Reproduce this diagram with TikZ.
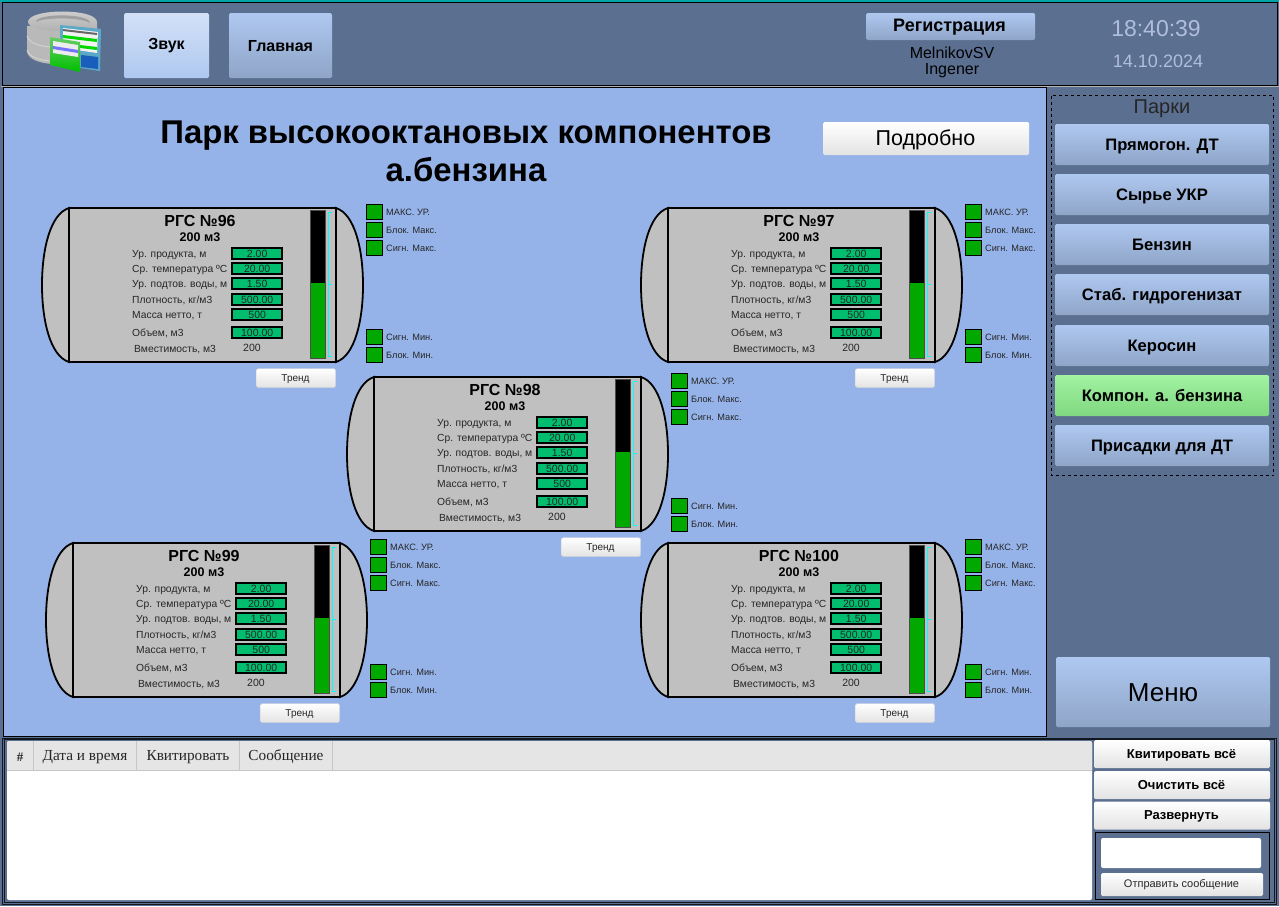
\documentclass[tikz,border=0pt]{standalone}
\usepackage{fontspec}
\setmainfont{Liberation Sans}
\newfontfamily\tablefont{Liberation Serif}
\newcommand{\px}[1]{\fontsize{#1}{#1}\selectfont}

\definecolor{panelblue}{HTML}{5B6F91}
\definecolor{mainblue}{HTML}{95B3E8}
\definecolor{tankgray}{HTML}{C0C0C0}
\definecolor{valgreen}{HTML}{00BE6E}
\definecolor{lampgreen}{HTML}{00A800}
\definecolor{clocktext}{HTML}{AFBEDC}
\definecolor{btnblue}{HTML}{AFC8F0}
\definecolor{btnbottom}{HTML}{8FA5C8}
\definecolor{levelcyan}{HTML}{00FFFF}

\tikzset{
    bluebtn/.style={draw=none, rounded corners=1.5pt, top color=btnblue, bottom color=btnbottom, inner sep=0pt, text=black},
    parkbtn/.style={bluebtn, minimum width=214pt, minimum height=41pt},
    parktext/.style={inner sep=0pt, text height=12pt, text depth=3pt, font=\px{16.6}\bfseries},
    whitebtn/.style={draw=none, rounded corners=1.5pt, top color=white, bottom color=gray!22, inner sep=0pt, text=black},
    trendbtn/.style={whitebtn, draw=gray!35, minimum width=79pt, minimum height=19pt},
    msgbtn/.style={whitebtn, minimum width=176pt, minimum height=28pt},
    msgtext/.style={inner sep=0pt, font=\px{13}\bfseries},
    valbox/.style={draw=black, line width=2pt, fill=valgreen, inner sep=0pt, minimum width=49.5pt, minimum height=11pt, text height=9pt, text depth=0pt, font=\px{10.5}, text=black!85},
    lamp/.style={draw=black, line width=0.6pt, fill=lampgreen, inner sep=0pt, minimum width=16pt, minimum height=15pt},
    lamptext/.style={anchor=west, inner sep=0pt, font=\px{9.2}, text=black!85},
    rowtext/.style={anchor=west, inner sep=0pt, yshift=-1pt, text height=8pt, text depth=2pt, font=\px{10.3}, text=black!85},
    colhead/.style={inner sep=0pt, yshift=-1pt, font=\tablefont\px{15.3}, text=black!85},
}

\newcommand{\tank}[4]{
    \begin{scope}[shift={(#2,#3)}]
        \draw[line width=1.8pt, fill=tankgray] (69,208) .. controls (50,214) and (42,250) .. (42,285) .. controls (42,320) and (50,356) .. (69,362) -- cycle;
        \draw[line width=1.8pt, fill=tankgray] (336,208) .. controls (355,214) and (363,250) .. (363,285) .. controls (363,320) and (355,356) .. (336,362) -- cycle;
        \draw[line width=1.8pt, fill=tankgray] (69,208) rectangle (336,362);
        \node[inner sep=0pt, font=\px{16}\bfseries] (#1-title) at (200,221) {РГС №#4};
        \node[inner sep=0pt, font=\px{12.5}\bfseries] (#1-vol) at (200,237) {200 м3};
        \foreach \yy/\lab/\val in {253/{Ур. продукта, м}/2.00, 268/{Ср. температура ºС}/20.00, 283/{Ур. подтов. воды, м}/1.50, 299/{Плотность, кг/м3}/500.00, 314/{Масса нетто, т}/500, 332/{Объем, м3}/100.00} {
            \node[rowtext] (#1-lab\yy) at (132,\yy) {\lab};
            \node[valbox] (#1-val\yy) at (257.2,\yy) {\val};
        }
        \node[rowtext] (#1-caplab) at (134,348) {Вместимость, м3};
        \node[inner sep=0pt, font=\px{10.5}, text=black!85] (#1-cap) at (252,348) {200};
        % level bar
        \fill[lampgreen] (310,283) rectangle (325,358);
        \fill[black] (310,210) rectangle (325,283);
        \draw[gray!60!black, line width=0.8pt] (310,210) rectangle (325,358);
        \draw[levelcyan, line width=1pt] (332,212) -- (328.5,212) -- (328.5,356) -- (332,356) (328.5,284) -- (332,284);
        \foreach \yy/\lab in {212/МАКС. УР., 230/Блок. Макс., 248/Сигн. Макс., 337/Сигн. Мин., 355/Блок. Мин.} {
            \node[lamp] (#1-lamp\yy) at (374,\yy) {};
            \node[lamptext] (#1-lamptext\yy) at (386,\yy) {\lab};
        }
        \node[trendbtn] (#1-trend) at (296,378) {};
        \node[inner sep=0pt, font=\px{10}, text=black!85] (#1-trendtext) at (295.5,379.5) {Тренд};
    \end{scope}
}

\begin{document}
\begin{tikzpicture}[x=1pt,y=-1pt]
    \useasboundingbox (0,0) rectangle (1279,906);
    \fill[panelblue] (0,0) rectangle (1279,906);
    \fill[teal!70!cyan] (0,0) rectangle (1279,2);

    % header
    \draw[black, line width=0.8pt] (2.5,2.5) rectangle (1277.5,85.5);
    \draw[gray!60, line width=0.8pt] (1,86.5) -- (1279,86.5);

    % disks and sheets
    \fill[gray!55] (27,26) -- (27,52) .. controls (29,60) and (40,63) .. (52,64) -- (97,40) -- (97,22) -- cycle;
    \foreach \yy in {36,50} {
        \draw[gray!35, line width=1pt] (27,\yy) .. controls (30,\yy+8) and (40,\yy+10) .. (50,\yy+11);
    }
    \shade[top color=gray!35, bottom color=gray!65] (28,22) .. controls (28,8) and (97,8) .. (97,22) .. controls (97,34) and (28,34) .. (28,22) -- cycle;
    \fill[gray!75] (36,22) .. controls (36,13) and (90,13) .. (90,23) .. controls (80,17) and (45,17) .. (36,22) -- cycle;
    \fill[cyan!55!gray] (60,25) -- (101,29) -- (100,71) -- (80,68) -- (60,64) -- cycle;
    \fill[white!90!gray] (63,28) -- (98,32) -- (97,53) -- (63,48) -- cycle;
    \fill[black!60] (63,29) -- (97,33) -- (97,35) -- (63,31) -- cycle;
    \fill[green!85!black] (63,35) -- (97,39) -- (97,42) -- (63,38) -- cycle;
    \fill[green!85!black] (63,43) -- (97,47) -- (97,50) -- (63,46) -- cycle;
    \fill[teal!60!blue!90] (81,55) -- (98,57) -- (98,69) -- (81,67) -- cycle;
    \shade[top color=green!50!gray!80, bottom color=green!75!black] (50,37) -- (80,42) -- (80,72) -- (50,65) -- cycle;
    \fill[white!85!gray] (53,41) -- (78,45) -- (78,57) -- (53,53) -- cycle;
    \fill[blue!55!white] (53,46) -- (78,50) -- (78,53) -- (53,49) -- cycle;

    \node[bluebtn, top color=btnblue!55!white, bottom color=btnblue, minimum width=85pt, minimum height=65pt] (sound) at (166.5,45.5) {};
    \node[inner sep=0pt, font=\px{16}\bfseries] (soundtext) at (166.5,46) {Звук};
    \node[bluebtn, minimum width=103pt, minimum height=65pt] (home) at (280.5,45.5) {};
    \node[inner sep=0pt, font=\px{16}\bfseries] (hometext) at (280.5,46) {Главная};
    \node[bluebtn, minimum width=169pt, minimum height=27pt] (reg) at (950.5,26.5) {};
    \node[inner sep=0pt, font=\px{18}\bfseries] (regtext) at (949.5,27.5) {Регистрация};
    \node[inner sep=0pt, font=\px{16}, text=black] (user) at (952,53) {MelnikovSV};
    \node[inner sep=0pt, font=\px{16}, text=black] (role) at (952,71) {Ingener};
    \node[inner sep=0pt, font=\px{23}, text=clocktext] (clock) at (1156,28.5) {18:40:39};
    \node[inner sep=0pt, font=\px{18}, text=clocktext] (date) at (1158,61) {14.10.2024};

    % main field
    \draw[black, line width=0.8pt, fill=mainblue] (3.5,87.5) rectangle (1046.5,736.5);
    \node[inner sep=0pt, align=center, font=\px{32.9}\bfseries] (title) at (466,151) {Парк высокооктановых компонентов\\[5pt]а.бензина};
    \node[whitebtn, minimum width=206pt, minimum height=33pt] (more) at (926,138.5) {};
    \node[inner sep=0pt, font=\px{21.5}] (moretext) at (925.5,140) {Подробно};

    \tank{t96}{0}{0}{96}
    \tank{t97}{599}{0}{97}
    \tank{t98}{305}{169}{98}
    \tank{t99}{4}{335}{99}
    \tank{t100}{599}{335}{100}

    % parks
    \draw[black, line width=0.6pt, dashed] (1051.5,95.5) rectangle (1273.5,475.5);
    \node[inner sep=0pt, font=\px{20}, text=black!85] (parks) at (1162,108.5) {Парки};
    \node[parkbtn] (p1) at (1162,144.5) {};
    \node[parkbtn] (p2) at (1162,194.5) {};
    \node[parkbtn] (p3) at (1162,244.5) {};
    \node[parkbtn] (p4) at (1162,294.5) {};
    \node[parkbtn] (p5) at (1162,345.5) {};
    \node[parkbtn, top color=green!35!white!90!gray, bottom color=green!70!black!50] (p6) at (1162,395.5) {};
    \node[parkbtn] (p7) at (1162,445.5) {};
    \node[parktext] (p1text) at (1162,145.5) {Прямогон. ДТ};
    \node[parktext] (p2text) at (1162,195.5) {Сырье УКР};
    \node[parktext] (p3text) at (1162,245.5) {Бензин};
    \node[parktext] (p4text) at (1162,295.5) {Стаб. гидрогенизат};
    \node[parktext] (p5text) at (1162,346.5) {Керосин};
    \node[parktext] (p6text) at (1162,396.5) {Компон. а. бензина};
    \node[parktext] (p7text) at (1162,446.5) {Присадки для ДТ};
    \node[bluebtn, minimum width=214pt, minimum height=70pt] (menu) at (1163,692) {};
    \node[inner sep=0pt, font=\px{26}] (menutext) at (1163,693) {Меню};

    % messages
    \draw[black!80!panelblue, line width=0.8pt] (2.5,738.5) rectangle (1276.5,904.5);
    \draw[black!80!panelblue, line width=0.6pt] (4.5,739.5) rectangle (1274.5,902.5);
    \fill[white, rounded corners=2pt] (7,741) rectangle (1092,900);
    \fill[gray!20] (7,770) [rounded corners=2pt] -- (7,741) -- (1092,741) [sharp corners] -- (1092,770) -- cycle;
    \draw[gray!45, line width=0.6pt] (7,770.5) -- (1092,770.5) (33.5,741) -- (33.5,770) (136.5,741) -- (136.5,770) (239.5,741) -- (239.5,770) (332.5,741) -- (332.5,770);
    \node[colhead, font=\tablefont\px{13}\bfseries] (c1) at (20,756) {\#};
    \node[colhead] (c2) at (85,756) {Дата и время};
    \node[colhead] (c3) at (188,756) {Квитировать};
    \node[colhead] (c4) at (286,756) {Сообщение};

    \node[msgbtn] (ack) at (1182,754) {};
    \node[msgtext] (acktext) at (1181.5,755) {Квитировать всё};
    \node[msgbtn] (clear) at (1182,785) {};
    \node[msgtext] (cleartext) at (1181.5,785) {Очистить всё};
    \node[msgbtn] (expand) at (1182,815.5) {};
    \node[msgtext] (expandtext) at (1181.5,816) {Развернуть};
    \draw[black, line width=0.8pt] (1095.5,832.5) rectangle (1269.5,899.5);
    \node[draw=none, fill=white, rounded corners=2pt, inner sep=0pt, minimum width=160pt, minimum height=30pt] (input) at (1181,853) {};
    \node[whitebtn, minimum width=162pt, minimum height=23pt] (send) at (1182,884.5) {};
    \node[inner sep=0pt, font=\px{11}, text=black!85] (sendtext) at (1181.5,885) {Отправить сообщение};
\end{tikzpicture}
\end{document}
